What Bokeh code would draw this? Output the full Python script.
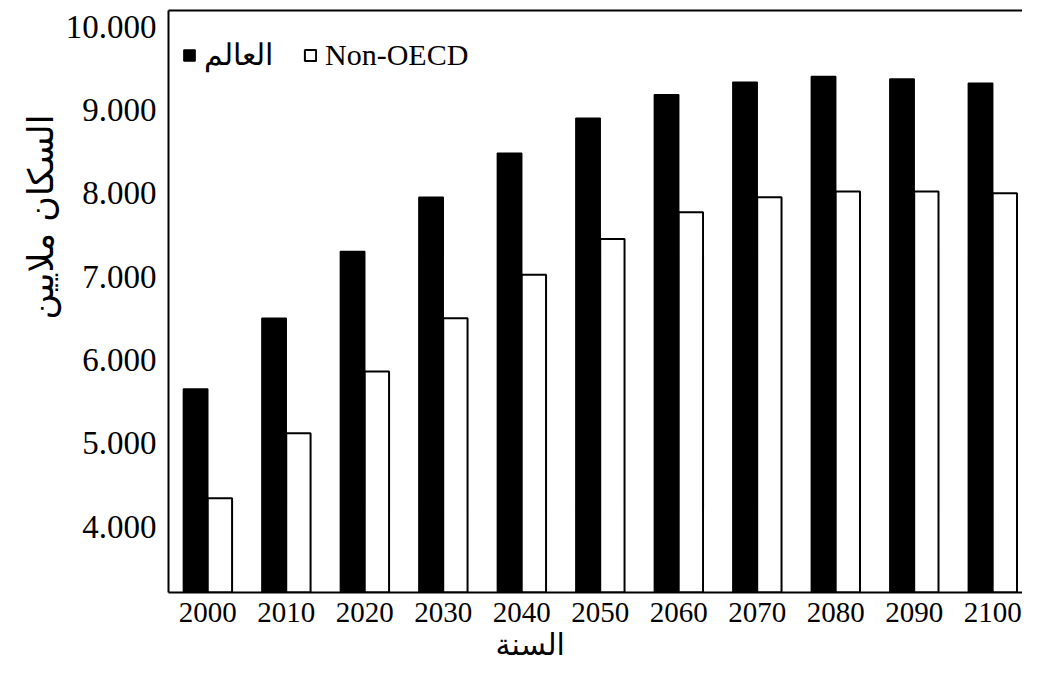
from bokeh.plotting import figure
from bokeh.models import (FixedTicker, LinearAxis, Range1d, Legend, LegendItem,
                          Title, ColumnDataSource)
from bokeh.transform import dodge
from bokeh.embed import file_html
from bokeh.resources import INLINE

# ---- data ----
years = [2000, 2010, 2020, 2030, 2040, 2050, 2060, 2070, 2080, 2090, 2100]
world = [5650, 6500, 7300, 7950, 8480, 8900, 9180, 9330, 9400, 9370, 9320]
non_oecd = [4340, 5120, 5860, 6500, 7020, 7450, 7770, 7950, 8020, 8020, 8000]
series_names = ["العالم", "Non-OECD"]
y_ticks = [4000, 5000, 6000, 7000, 8000, 9000, 10000]
y_tick_labels = ["4.000", "5.000", "6.000", "7.000", "8.000", "9.000", "10.000"]
x_tick_labels = [str(y) for y in years]
x_title = "السنة"
y_title = "السكان ملايين"

src = ColumnDataSource(dict(year=years, world=world, non_oecd=non_oecd))

p = figure(width=1022, height=661, output_backend="svg", toolbar_location=None,
           x_range=Range1d(1995, 2103.8), y_range=Range1d(3208, 10192),
           min_border_left=168, min_border_right=0, min_border_top=10,
           min_border_bottom=69)
p.outline_line_color = None
p.grid.visible = False
p.background_fill_color = "white"
p.border_fill_color = "white"

r1 = p.vbar(x=dodge("year", -1.55), top="world", bottom=0, width=3.1,
            fill_color="black", line_color="black", line_width=1.5, source=src)
r2 = p.vbar(x=dodge("year", 1.55), top="non_oecd", bottom=0, width=3.1,
            fill_color="white", line_color="black", line_width=2, source=src)

# axes
yax = p.yaxis[0]
yax.ticker = FixedTicker(ticks=y_ticks)
yax.major_label_overrides = dict(zip(y_ticks, y_tick_labels))
yax.major_tick_line_color = None
yax.minor_tick_line_color = None
yax.major_tick_out = 0
yax.minor_tick_out = 0
yax.axis_line_width = 2
yax.major_label_text_font = "Liberation Serif"
yax.major_label_text_font_size = "33px"
yax.major_label_text_color = "black"
yax.major_label_standoff = 12

xax = p.xaxis[0]
xax.ticker = FixedTicker(ticks=years)
xax.major_label_overrides = dict(zip(years, x_tick_labels))
xax.major_tick_line_color = None
xax.minor_tick_line_color = None
xax.major_tick_out = 0
xax.minor_tick_out = 0
xax.axis_line_width = 2
xax.major_label_text_font = "Liberation Serif"
xax.major_label_text_font_size = "29px"
xax.major_label_text_color = "black"
xax.major_label_standoff = 10

top_ax = LinearAxis(ticker=FixedTicker(ticks=[]), axis_line_width=2,
                    major_tick_out=0, minor_tick_out=0, major_label_standoff=0,
                    major_tick_line_color=None, minor_tick_line_color=None)
p.add_layout(top_ax, "above")

# titles
p.add_layout(Title(text=x_title, align="left", offset=327, standoff=0,
                   text_font="DejaVu Sans", text_font_size="30px",
                   text_font_style="normal", text_color="black"), "below")
p.add_layout(Title(text=y_title, align="right", offset=104, standoff=4,
                   text_font="DejaVu Sans", text_font_size="35px",
                   text_font_style="normal", text_color="black"), "left")

legend = Legend(items=[LegendItem(label=series_names[0], renderers=[r1]),
                       LegendItem(label=series_names[1], renderers=[r2])],
                orientation="horizontal", location=(14, 520),
                padding=0, margin=0, spacing=30, label_standoff=8,
                glyph_width=14, glyph_height=14,
                label_text_font="Liberation Serif", label_text_font_size="30px",
                label_text_color="black",
                background_fill_alpha=0, border_line_color=None)
p.add_layout(legend)

open("out.html", "w").write(file_html(p, INLINE))
